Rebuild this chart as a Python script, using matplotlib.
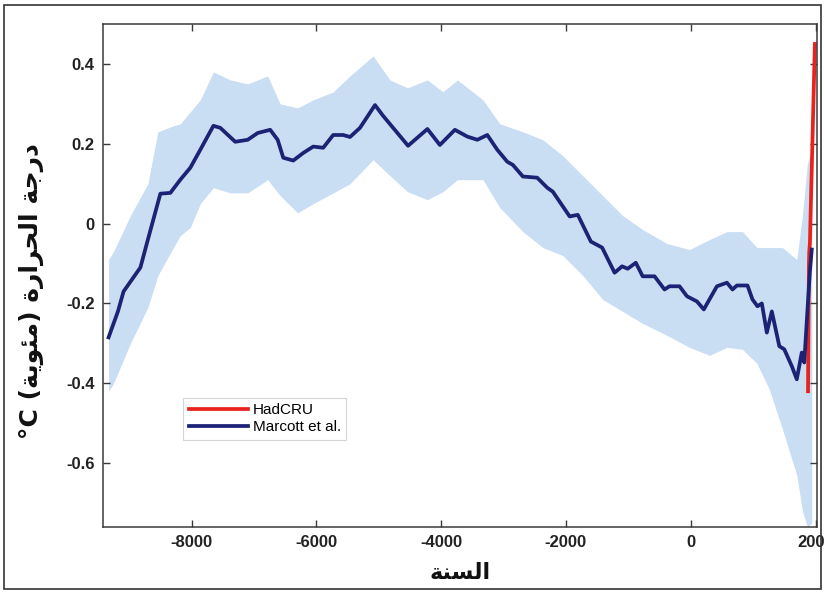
import matplotlib
matplotlib.use("Agg")
import matplotlib.pyplot as plt
from matplotlib.patches import Rectangle

# ---- data ----
marcott_years = [-9330, -9180, -9090, -8820, -8700, -8500, -8340, -8180, -8020, -7860,
                 -7650, -7540, -7300, -7100, -6940, -6740, -6620, -6530, -6370, -6210,
                 -6050, -5890, -5730, -5570, -5460, -5300, -5060, -4930, -4770, -4530,
                 -4220, -4020, -3780, -3580, -3420, -3260, -3100, -2940, -2850, -2690,
                 -2460, -2300, -2210, -1940, -1810, -1600, -1420, -1220, -1100, -1010,
                 -880, -770, -580, -420, -340, -180, -60, 100, 210, 300,
                 420, 580, 670, 740, 910, 990, 1070, 1140, 1220, 1300,
                 1420, 1500, 1620, 1700, 1780, 1820, 1870, 1910, 1940]
marcott_temp = [-0.285, -0.22, -0.17, -0.11, -0.04, 0.075, 0.077, 0.11, 0.14, 0.185,
                0.245, 0.24, 0.205, 0.21, 0.227, 0.235, 0.21, 0.165, 0.158, 0.177,
                0.193, 0.19, 0.222, 0.222, 0.217, 0.24, 0.297, 0.27, 0.24, 0.195,
                0.237, 0.197, 0.235, 0.218, 0.21, 0.222, 0.185, 0.155, 0.147, 0.118,
                0.115, 0.09, 0.08, 0.018, 0.022, -0.045, -0.06, -0.123, -0.107, -0.113,
                -0.098, -0.132, -0.132, -0.165, -0.157, -0.157, -0.182, -0.195, -0.215, -0.19,
                -0.157, -0.148, -0.165, -0.155, -0.155, -0.19, -0.207, -0.2, -0.273, -0.22,
                -0.307, -0.315, -0.357, -0.39, -0.323, -0.348, -0.22, -0.12, -0.065]

band_years = [-9330, -9250, -8980, -8700, -8540, -8290, -8180, -8020, -7860, -7650,
              -7380, -7100, -6780, -6580, -6300, -6050, -5730, -5460, -5090, -4820,
              -4540, -4220, -3970, -3740, -3330, -3060, -2690, -2370, -2050, -1730,
              -1410, -1090, -770, -380, -20, 300, 580, 830, 1060, 1260,
              1470, 1700, 1790, 1870, 1940]
band_upper = [-0.09, -0.07, 0.02, 0.10, 0.23, 0.245, 0.25, 0.28, 0.31, 0.38,
              0.36, 0.35, 0.37, 0.30, 0.29, 0.31, 0.33, 0.37, 0.42, 0.36,
              0.34, 0.36, 0.33, 0.36, 0.31, 0.25, 0.23, 0.21, 0.17, 0.12,
              0.07, 0.02, -0.015, -0.05, -0.065, -0.04, -0.02, -0.02, -0.06, -0.06,
              -0.06, -0.09, 0.02, 0.15, 0.19]
band_lower = [-0.42, -0.40, -0.30, -0.21, -0.13, -0.06, -0.03, -0.01, 0.05, 0.09,
              0.077, 0.077, 0.11, 0.07, 0.027, 0.05, 0.077, 0.10, 0.16, 0.12,
              0.08, 0.06, 0.08, 0.11, 0.11, 0.04, -0.02, -0.06, -0.08, -0.13,
              -0.19, -0.22, -0.25, -0.28, -0.31, -0.33, -0.31, -0.315, -0.35, -0.415,
              -0.515, -0.63, -0.72, -0.76, -0.75]

hadcru_years = [1880, 1895, 1900, 1910, 1990]
hadcru_temp = [-0.42, -0.10, -0.07, -0.05, 0.45]

x_ticks = [-8000, -6000, -4000, -2000, 0, 2000]
x_tick_labels = ["-8000", "-6000", "-4000", "-2000", "0", "2000"]
y_ticks = [-0.6, -0.4, -0.2, 0, 0.2, 0.4]
y_tick_labels = ["-0.6", "-0.4", "-0.2", "0", "0.2", "0.4"]

xlabel = "ﺔﻨﺴﻟﺍ"                       # السنة
ylabel = "°C (ﺔﻳﻮﺌﻣ) ﺓﺭﺍﺮﺤﻟﺍ ﺔﺟﺭﺩ"   # درجة الحرارة (مئوية) °C

# ---- figure ----
fig = plt.figure(figsize=(8.25, 5.93), dpi=100)
ax = fig.add_axes([0.1248, 0.1113, 0.8652, 0.8482])

band_color = "#c9ddf3"
line_color = "#1c2374"
red_color = "#e8231d"

ax.fill_between(band_years, band_lower, band_upper, color=band_color, linewidth=0, zorder=1)
ax.plot(marcott_years, marcott_temp, color=line_color, lw=2.7, zorder=3, label="Marcott et al.",
        solid_joinstyle="round")
ax.plot(hadcru_years, hadcru_temp, color=red_color, lw=2.7, zorder=2, label="HadCRU")

ax.set_xlim(-9420, 2020)
ax.set_ylim(-0.76, 0.5)
ax.set_xticks(x_ticks)
ax.set_xticklabels(x_tick_labels)
ax.set_yticks(y_ticks)
ax.set_yticklabels(y_tick_labels)

for s in ax.spines.values():
    s.set_color("#3a3a3a")
    s.set_linewidth(1.1)
ax.tick_params(direction="in", length=5, width=1, colors="#3a3a3a",
               top=True, right=True, pad=6)
for lab in ax.get_xticklabels() + ax.get_yticklabels():
    lab.set_fontfamily("Liberation Sans")
    lab.set_fontweight("bold")
    lab.set_fontsize(12)
    lab.set_color("#222222")

handles, labels = ax.get_legend_handles_labels()
order = [1, 0]
leg = ax.legend([handles[i] for i in order], [labels[i] for i in order],
                loc="upper left", bbox_to_anchor=(0.102, 0.272),
                prop={"family": "Liberation Sans", "size": 11},
                handlelength=3.9, handletextpad=0.3, borderpad=0.35, labelspacing=0.2,
                frameon=True, fancybox=False, edgecolor="#d5d5d5", framealpha=1)
leg.get_frame().set_linewidth(0.8)

ax.set_xlabel(xlabel, fontfamily=["DejaVu Sans"], fontweight="bold", fontsize=16,
              labelpad=9, color="#111111")
ax.set_ylabel(ylabel, fontfamily=["DejaVu Sans"], fontweight="bold", fontsize=18,
              color="#111111")
ax.yaxis.set_label_coords(-0.083, 0.47)

fig.patches.append(Rectangle((0.005, 0.006), 0.99, 0.985, transform=fig.transFigure,
                             fill=False, edgecolor="#333333", linewidth=1.2))

fig.savefig("out.png", dpi=100)
